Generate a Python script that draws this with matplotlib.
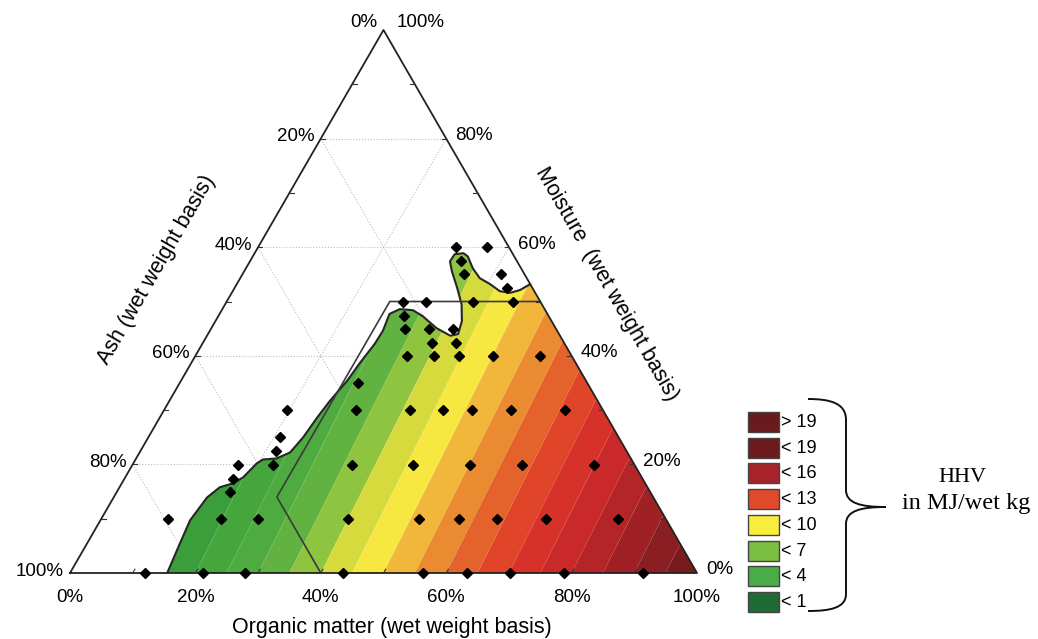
import numpy as np
import matplotlib
matplotlib.use("Agg")
import matplotlib.pyplot as plt
from matplotlib.path import Path
from matplotlib.patches import PathPatch, Polygon, Rectangle
from matplotlib.colors import ListedColormap, BoundaryNorm

plt.rcParams['font.family'] = ['Liberation Sans', 'DejaVu Sans']

# ---------------- data (percent, wet weight basis) ----------------
# sample points: organic matter %, moisture %  (ash = 100 - organic - moisture)
pts_organic = [12.0, 21.2, 27.9, 43.5, 56.3, 63.3, 70.2, 78.8, 91.4,
               10.7, 19.1, 25.0, 39.4, 50.7, 57.1, 63.1, 71.0, 82.4,
               18.1, 17.3, 16.9, 22.5, 21.7, 21.0, 19.6,
               35.1, 44.8, 53.9, 62.2, 73.7,
               30.6, 39.2, 44.5, 49.1, 55.3, 63.9,
               28.5,
               33.7, 38.1, 42.0, 47.5, 55.0,
               36.5, 40.4,
               30.9, 34.8, 38.6,
               29.6,
               28.1, 31.8, 39.4, 45.7,
               43.5, 35.3, 41.2, 33.7, 31.6, 36.5]
pts_moisture = [0, 0, 0, 0, 0, 0, 0, 0, 0,
                9.9, 9.9, 9.9, 9.9, 9.9, 9.9, 9.9, 9.9, 9.9,
                14.9, 17.4, 19.8, 19.8, 22.4, 25.0, 30.1,
                19.8, 19.8, 19.8, 19.8, 19.8,
                30.1, 30.1, 30.1, 30.1, 30.1, 30.1,
                34.9,
                40.0, 40.0, 40.0, 40.0, 40.0,
                42.4, 42.4,
                45.0, 45.0, 45.0,
                47.3,
                49.9, 49.9, 49.9, 49.9,
                52.5, 55.0, 55.0, 57.4, 60.0, 60.0]

# edge of the coloured (interpolated) region, from bottom edge to right edge
edge_organic = [15.5, 14.8, 14.3, 14.9, 16.0, 17.7, 18.8, 19.7, 20.3, 22.4, 24.0,
                24.7, 25.1, 25.6, 26.5, 26.9, 27.5, 27.6, 27.1, 28.3, 30.5, 32.6,
                35.9, 38.8, 39.9, 39.3, 37.7, 35.5, 33.1, 31.9, 32.0, 33.3, 34.3,
                36.2, 38.2, 40.4, 42.6, 44.4, 45.7, 46.8]
edge_moisture = [0.0, 5.5, 9.7, 13.9, 15.8, 16.5, 17.6, 20.2, 20.9, 21.1, 22.2,
                 25.0, 28.6, 31.7, 35.4, 38.7, 42.2, 44.6, 47.7, 48.6, 48.4, 47.3,
                 45.1, 43.7, 44.0, 46.4, 49.5, 52.5, 55.6, 57.4, 58.7, 58.9, 58.3,
                 56.1, 54.3, 53.2, 51.9, 51.6, 52.1, 53.2]

# outlined sub-region: organic >= 26 %, ash <= 60 %, moisture <= 50 %
poly_organic = [40, 26, 26, 50]
poly_moisture = [0, 14, 50, 50]

# HHV field (MJ / wet kg) approximated from contour bands
hhv_org_coef = 20.0
hhv_moist_coef = 1.3
hhv_levels = list(range(0, 22))
band_colors = ['#1b6e34', '#247f36', '#2e9438', '#3a9f3b', '#45a63d', '#4eab3f',
               '#62b241', '#8ec43f', '#d6da3c', '#f6e841', '#f2b63a', '#ea8a31',
               '#e4622c', '#e0452a', '#d7322a', '#c92a29', '#b52427', '#a02125',
               '#8a1e22', '#781b1e', '#6a191b']

# legend
legend_labels = ['> 19', '< 19', '< 16', '< 13', '< 10', '< 7', '< 4', '< 1']
legend_colors = ['#6a1a1c', '#6d1a1d', '#a82329', '#e04a2a', '#f8ec3c',
                 '#7abf42', '#4aac47', '#1f6b35']

tick_values = [0, 20, 40, 60, 80, 100]

# ---------------- helpers ----------------
H = np.sqrt(3) / 2


def tern(o, m):
    o = np.asarray(o, float) / 100.0
    m = np.asarray(m, float) / 100.0
    return o + m / 2, m * H


W, Hp = 1038, 639
fig = plt.figure(figsize=(W / 100, Hp / 100), dpi=100)
ax = fig.add_axes([70 / W, (Hp - 573) / Hp, 627 / W, 545 / Hp])
ax.set_xlim(0, 1)
ax.set_ylim(0, 545 / 627)
ax.axis('off')

# grid lines (dotted)
gkw = dict(color='#bdbdbd', lw=0.8, ls=(0, (1, 1.6)), zorder=1)
for t in [20, 40, 60, 80]:
    x, y = tern([0, 100 - t], [t, t]); ax.plot(x, y, **gkw)          # constant moisture
    x, y = tern([t, t], [0, 100 - t]); ax.plot(x, y, **gkw)          # constant organic
    x, y = tern([100 - t, 0], [0, 100 - t]); ax.plot(x, y, **gkw)    # constant ash

# HHV field
xs = np.linspace(0, 1, 600)
ys = np.linspace(0, H, 520)
X, Y = np.meshgrid(xs, ys)
Mf = Y / H
Of = X - Mf / 2
F = hhv_org_coef * Of + hhv_moist_coef * Mf
cmap = ListedColormap(band_colors)
norm = BoundaryNorm(hhv_levels, cmap.N)
cs = ax.contourf(X, Y, F, levels=hhv_levels, cmap=cmap, norm=norm, zorder=2,
                 antialiased=True)

# clip region
ex, ey = tern(edge_organic, edge_moisture)
rx, ry = tern([100], [0])
clip_x = np.concatenate([ex, rx])
clip_y = np.concatenate([ey, ry])
clip = Polygon(np.column_stack([clip_x, clip_y]), closed=True,
               transform=ax.transData, facecolor='none', edgecolor='none')
ax.add_patch(clip)
cs.set_clip_path(clip)

# boundary of coloured region
ax.plot(ex, ey, color='#262626', lw=1.5, zorder=4, solid_capstyle='round')

# outlined sub-region
px, py = tern(poly_organic, poly_moisture)
ax.plot(px, py, color='#3a3a3a', lw=1.2, zorder=4)

# triangle
tx, ty = tern([0, 100, 0, 0], [0, 0, 100, 0])
ax.plot(tx, ty, color='#222222', lw=1.3, zorder=5, clip_on=False)

# minor ticks every 10 %
tl = 0.7
for t in range(10, 100, 10):
    x, y = tern([t, t], [0, tl]); ax.plot(x, y, color='#333', lw=0.8, zorder=5)
    x, y = tern([0, tl], [100 - t, 100 - t]); ax.plot(x, y, color='#333', lw=0.8, zorder=5)
    x, y = tern([100 - t, 100 - t - tl], [t, t]); ax.plot(x, y, color='#333', lw=0.8, zorder=5)

# data points
dx, dy = tern(pts_organic, pts_moisture)
ax.plot(dx, dy, 'D', color='black', ms=5.2, zorder=6, clip_on=False)

# tick labels
fs = 13.5
for t in tick_values:
    # bottom: organic
    x, y = tern([t], [0])
    ax.annotate(f'{t}%', (x[0], y[0]), xytext=(0, -24), textcoords='offset pixels',
                ha='center', va='center', fontsize=fs, annotation_clip=False)
    # left: ash (0 at top)
    x, y = tern([0], [100 - t])
    oy = 8 if t == 0 else 2
    ax.annotate(f'{t}%', (x[0], y[0]), xytext=(-6, oy), textcoords='offset pixels',
                ha='right', va='center', fontsize=fs, annotation_clip=False)
    # right: moisture
    x, y = tern([100 - t], [t])
    oy = 8 if t == 100 else 3
    ox = 13 if t == 100 else 9
    ax.annotate(f'{t}%', (x[0], y[0]), xytext=(ox, oy), textcoords='offset pixels',
                ha='left', va='center', fontsize=fs, annotation_clip=False)

# axis titles
fig.text(392 / W, 1 - 628 / Hp, 'Organic matter (wet weight basis)', ha='center',
         va='center', fontsize=15.5)
fig.text(157 / W, 1 - 270 / Hp, 'Ash (wet weight basis)', ha='center', va='center',
         fontsize=15.5, rotation=60, rotation_mode='anchor')
fig.text(607 / W, 1 - 284 / Hp, 'Moisture  (wet weight basis)', ha='center',
         va='center', fontsize=15.5, rotation=-60, rotation_mode='anchor')

# legend (overlay axes in pixel space)
lax = fig.add_axes([0, 0, 1, 1])
lax.set_xlim(0, W)
lax.set_ylim(Hp, 0)
lax.axis('off')
for i, (lab, col) in enumerate(zip(legend_labels, legend_colors)):
    top = 412 + i * 25.7
    lax.add_patch(Rectangle((748, top), 31, 20, facecolor=col, edgecolor='#444444', lw=1))
    lax.text(781, top + 10.5, lab, ha='left', va='center', fontsize=13)

verts = [(808, 399), (830, 399), (846, 403), (846, 420),
         (846, 490),
         (846, 503), (860, 507), (886, 507),
         (860, 507), (846, 511), (846, 524),
         (846, 594),
         (846, 608), (830, 611), (808, 611)]
codes = [Path.MOVETO, Path.CURVE4, Path.CURVE4, Path.CURVE4,
         Path.LINETO,
         Path.CURVE4, Path.CURVE4, Path.CURVE4,
         Path.CURVE4, Path.CURVE4, Path.CURVE4,
         Path.LINETO,
         Path.CURVE4, Path.CURVE4, Path.CURVE4]
lax.add_patch(PathPatch(Path(verts, codes), facecolor='none', edgecolor='#111111', lw=1.4))
lax.text(962, 478, 'HHV', ha='center', va='center', fontsize=16,
         family=['Liberation Serif', 'DejaVu Serif'])
lax.text(966, 503, 'in MJ/wet kg', ha='center', va='center', fontsize=17.5,
         family=['Liberation Serif', 'DejaVu Serif'])

fig.savefig('out.png', dpi=100, facecolor='white')
